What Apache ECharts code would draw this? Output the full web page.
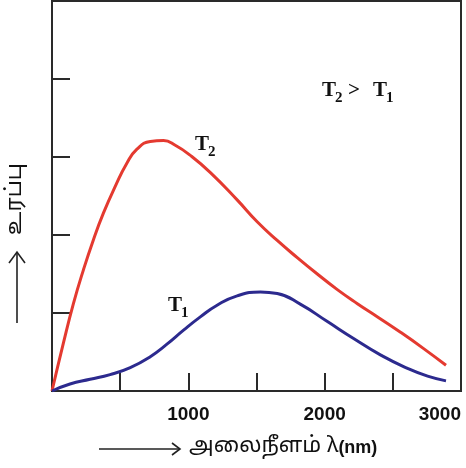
<!DOCTYPE html>
<html><head><meta charset="utf-8">
<script src="https://cdn.jsdelivr.net/npm/echarts@6/dist/echarts.min.js"></script>
<style>html,body{margin:0;padding:0;background:#fff}#c{width:466px;height:468px}</style>
</head><body><div id="c"></div>
<script>
// wavelength (nm) and intensity (arbitrary units)
const t2Wavelength = [0, 83, 157, 230, 304, 377, 463, 549, 623, 721, 818, 904, 1015, 1162, 1358, 1505, 1652, 1799, 1946, 2093, 2240, 2388, 2559, 2721, 2890];
const t2Intensity  = [0, 0.61, 1.12, 1.55, 1.94, 2.28, 2.62, 2.92, 3.10, 3.20, 3.21, 3.15, 3.02, 2.80, 2.45, 2.17, 1.93, 1.71, 1.50, 1.30, 1.12, 0.95, 0.75, 0.55, 0.33];
const t1Wavelength = [0, 132, 279, 426, 574, 721, 843, 965, 1088, 1211, 1358, 1529, 1652, 1824, 2020, 2215, 2412, 2608, 2755, 2890];
const t1Intensity  = [0, 0.09, 0.15, 0.21, 0.30, 0.44, 0.60, 0.78, 0.95, 1.10, 1.22, 1.27, 1.25, 1.11, 0.89, 0.67, 0.46, 0.29, 0.19, 0.13];
const xTickLabels = [1000, 2000, 3000];
const xName = 'அலைநீளம் λ';
const xUnit = '(nm)';
const yName = 'உரப்பு';

const pair = (xs, ys) => xs.map((x, i) => [x, ys[i]]);
const axisColor = '#2a2a2a';
const serif = '"Liberation Serif","Times New Roman",serif';
const tamil = '"Noto Sans Tamil","Noto Sans",sans-serif';

function tLabel(x, y, sub) {
  return [
    {type: 'text', x: x, y: y, style: {text: 'T', font: 'bold 21px ' + serif, fill: '#111', verticalAlign: 'middle', align: 'left'}},
    {type: 'text', x: x + 13, y: y + 7, style: {text: sub, font: 'bold 15px ' + serif, fill: '#111', verticalAlign: 'middle', align: 'left'}}
  ];
}

const chart = echarts.init(document.getElementById('c'));
chart.setOption({
  animation: false,
  grid: {left: 52, right: 5, top: 1, bottom: 77, show: true, borderColor: axisColor, borderWidth: 2},
  xAxis: {
    type: 'value', min: 0, max: 3000, interval: 500,
    axisLine: {lineStyle: {color: axisColor, width: 2}},
    axisTick: {inside: true, length: 18, lineStyle: {color: axisColor, width: 2}},
    splitLine: {show: false},
    axisLabel: {
      margin: 14, color: '#111', fontSize: 19, fontWeight: 'bold', fontFamily: '"Liberation Sans",Arial,sans-serif',
      alignMaxLabel: 'right',
      formatter: v => xTickLabels.includes(v) ? String(v) : ''
    }
  },
  yAxis: {
    type: 'value', min: 0, max: 5, interval: 1,
    axisLine: {show: true, lineStyle: {color: axisColor, width: 2}},
    axisTick: {show: true, inside: true, length: 18, lineStyle: {color: axisColor, width: 2}},
    splitLine: {show: false},
    axisLabel: {show: false}
  },
  series: [
    {type: 'line', data: pair(t2Wavelength, t2Intensity), smooth: 0.5, showSymbol: false, lineStyle: {color: '#e43a30', width: 3}},
    {type: 'line', data: pair(t1Wavelength, t1Intensity), smooth: 0.5, showSymbol: false, lineStyle: {color: '#2c2a8e', width: 3}}
  ],
  graphic: [
    // y-axis title
    {type: 'polyline', shape: {points: [[17, 323], [17, 252]]}, style: {stroke: '#222', lineWidth: 1.6, fill: null}},
    {type: 'polyline', shape: {points: [[9, 263], [17, 252], [25, 263]]}, style: {stroke: '#222', lineWidth: 1.6, fill: null}},
    {type: 'text', x: 17, y: 199, rotation: Math.PI / 2, style: {text: yName, font: '22px ' + tamil, fill: '#111', align: 'center', verticalAlign: 'middle'}},
    // x-axis title
    {type: 'polyline', shape: {points: [[99, 449], [179, 449]]}, style: {stroke: '#222', lineWidth: 1.6, fill: null}},
    {type: 'polyline', shape: {points: [[172, 443], [180, 449], [172, 455]]}, style: {stroke: '#222', lineWidth: 1.6, fill: null}},
    {type: 'text', x: 189, y: 448, style: {
      text: '{a|' + xName + '}{b|' + xUnit + '}', align: 'left', verticalAlign: 'middle',
      rich: {a: {font: '22px ' + tamil, fill: '#111'}, b: {font: 'bold 18px "Liberation Sans",Arial,sans-serif', fill: '#111'}}
    }},
    // annotations
    ...tLabel(195, 145, '2'),
    ...tLabel(168, 306, '1'),
    ...tLabel(322, 91, '2'),
    {type: 'text', x: 348, y: 91, style: {text: '>', font: 'bold 21px ' + serif, fill: '#111', verticalAlign: 'middle', align: 'left'}},
    ...tLabel(373, 91, '1')
  ]
});
</script></body></html>
